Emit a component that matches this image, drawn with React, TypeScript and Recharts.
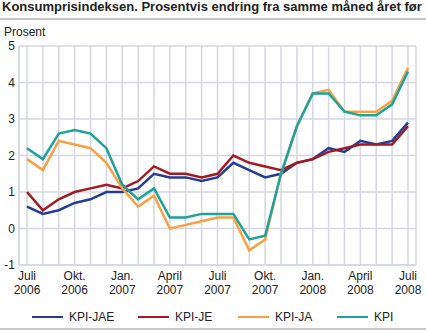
import React from 'react';
import { LineChart, Line, XAxis, YAxis, CartesianGrid } from 'recharts';

const monthNames = ['Juli', 'Aug.', 'Sep.', 'Okt.', 'Nov.', 'Des.', 'Jan.', 'Feb.', 'Mars', 'April', 'Mai', 'Juni'];
const years = [2006, 2007, 2008];

const kpiJae = [0.6, 0.4, 0.5, 0.7, 0.8, 1.0, 1.0, 1.1, 1.5, 1.4, 1.4, 1.3, 1.4, 1.8, 1.6, 1.4, 1.5, 1.8, 1.9, 2.2, 2.1, 2.4, 2.3, 2.4, 2.9];
const kpiJe = [1.0, 0.5, 0.8, 1.0, 1.1, 1.2, 1.1, 1.3, 1.7, 1.5, 1.5, 1.4, 1.5, 2.0, 1.8, 1.7, 1.6, 1.8, 1.9, 2.1, 2.2, 2.3, 2.3, 2.3, 2.8];
const kpiJa = [1.9, 1.6, 2.4, 2.3, 2.2, 1.8, 1.1, 0.6, 0.9, 0.0, 0.1, 0.2, 0.3, 0.3, -0.6, -0.3, 1.5, 2.8, 3.7, 3.8, 3.2, 3.2, 3.2, 3.5, 4.4];
const kpi = [2.2, 1.9, 2.6, 2.7, 2.6, 2.2, 1.2, 0.8, 1.1, 0.3, 0.3, 0.4, 0.4, 0.4, -0.3, -0.2, 1.5, 2.8, 3.7, 3.7, 3.2, 3.1, 3.1, 3.4, 4.3];

const yTicks = [-1, 0, 1, 2, 3, 4, 5];

const series = [
    { key: 'jae', name: 'KPI-JAE', color: '#263d96', values: kpiJae },
    { key: 'je', name: 'KPI-JE', color: '#a31a22', values: kpiJe },
    { key: 'ja', name: 'KPI-JA', color: '#f8a043', values: kpiJa },
    { key: 'kpi', name: 'KPI', color: '#1ba39c', values: kpi },
];

// month i counted from July 2006
const data = kpi.map((_, i) => {
    const row: Record<string, string | number> = {
        month: monthNames[i % 12],
        year: years[0] + Math.floor((i + 6) / 12),
        id: i,
    };
    series.forEach(s => { row[s.key] = s.values[i]; });
    return row;
});

const font = '"Liberation Sans", Arial, sans-serif';
const gridColor = '#d6d7e0';

const MonthTick = (props: any) => {
    const { x, y, index } = props;
    if (index % 3 !== 0) return null;
    const d = data[index];
    return (
        <text x={x} y={y} textAnchor="middle" fontSize={12} fill="#222" fontFamily={font}>
            <tspan x={x} dy={15}>{d.month}</tspan>
            <tspan x={x} dy={14}>{d.year}</tspan>
        </text>
    );
};

const legendPos = [32, 138, 238, 337];

export default function App() {
    return (
        <div style={{ position: 'absolute', left: 0, top: 0, width: 426, height: 330, fontFamily: font, color: '#222', background: '#fff' }}>
            <div style={{ position: 'absolute', left: 2, top: 0, fontSize: 13, lineHeight: '14px', fontWeight: 'bold', whiteSpace: 'nowrap' }}>
                Konsumprisindeksen. Prosentvis endring fra samme måned året før
            </div>
            <div style={{ position: 'absolute', left: 0, top: 18, width: 426, height: 2, background: '#c8c8c8' }} />
            <div style={{ position: 'absolute', left: 4, top: 25, fontSize: 12 }}>Prosent</div>
            <LineChart width={426} height={330} data={data} margin={{ top: 46, right: 10, left: 0, bottom: 25 }}>
                <CartesianGrid stroke={gridColor} strokeWidth={1.5} />
                <XAxis
                    dataKey="id"
                    interval={0}
                    tick={<MonthTick />}
                    tickLine={false}
                    tickSize={0}
                    tickMargin={0}
                    axisLine={{ stroke: gridColor, strokeWidth: 1.5 }}
                    padding={{ left: 8, right: 8 }}
                    height={40}
                />
                <YAxis
                    domain={[-1, 5]}
                    ticks={yTicks}
                    width={19}
                    tickLine={false}
                    tickSize={2}
                    tickMargin={2}
                    axisLine={{ stroke: gridColor, strokeWidth: 1.5 }}
                    tick={{ fontSize: 12, fill: '#222', fontFamily: font }}
                    interval={0}
                />
                {series.map(s => (
                    <Line
                        key={s.key}
                        type="linear"
                        dataKey={s.key}
                        name={s.name}
                        stroke={s.color}
                        strokeWidth={2.5}
                        dot={false}
                        activeDot={false}
                        isAnimationActive={false}
                    />
                ))}
            </LineChart>
            {series.map((s, i) => (
                <div key={s.key} style={{ position: 'absolute', left: legendPos[i], top: 309, height: 16, display: 'flex', alignItems: 'center', fontSize: 12 }}>
                    <div style={{ width: 31, height: 2.5, background: s.color, marginRight: 6 }} />
                    <span>{s.name}</span>
                </div>
            ))}
            <div style={{ position: 'absolute', left: 0, top: 328, width: 426, height: 2, background: '#c8c8c8' }} />
        </div>
    );
}
